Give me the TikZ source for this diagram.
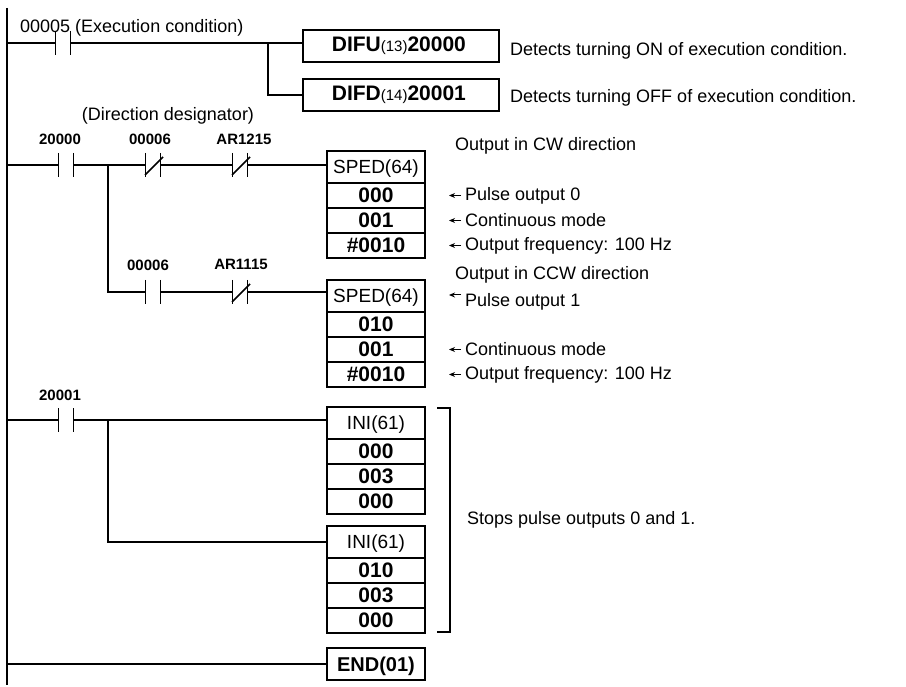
\documentclass[tikz,border=0pt]{standalone}
\usepackage{fontspec}
\setmainfont{Liberation Sans}
\usetikzlibrary{arrows.meta}
\usetikzlibrary{positioning}
\tikzset{
% standard arrow tip
>={Stealth[length=6pt,width=5pt]},
rung/.style={line width=1.6pt},
contact/.style={rectangle, minimum width=15pt, minimum height=24pt, inner sep=0, outer sep=0},
clabel/.style={font=\fontsize{15}{15}\selectfont\bfseries, inner sep=0},
note/.style={font=\fontsize{18}{18}\selectfont, inner sep=0, anchor=west},
head/.style={rectangle, draw=black, line width=1.8pt, minimum width=98pt, minimum height=32pt, inner sep=2pt, outer sep=0, anchor=north west, text depth=0pt, font=\fontsize{19}{19}\selectfont},
cell/.style={rectangle, draw=black, line width=1.8pt, minimum width=98pt, minimum height=25pt, inner sep=0, outer sep=0, anchor=north, font=\fontsize{21}{21}\selectfont\bfseries}
}
\newcommand{\plates}[1]{\draw[rung] (#1.north west) -- (#1.south west) (#1.north east) -- (#1.south east);}
\newcommand{\ncslash}[1]{\draw[rung] ([xshift=-8pt,yshift=-10pt]#1.center) -- ([xshift=10pt,yshift=8pt]#1.center);}

\begin{document}
\begin{tikzpicture}[x=1pt, y=-1pt]
  \useasboundingbox (0,0) rectangle (906,687);
  \coordinate (railtop) at (7,8);
  \coordinate (railbot) at (7,685);
  \coordinate (nx) at (465,0);
  \draw[rung] (railtop) -- (railbot);

  % rung 1
  \node[contact] (c00005) at (63,43) {};
  \plates{c00005}
  \node[note, anchor=south west] (exec) at (20,36) {00005 (Execution condition)};
  \node[rectangle, draw=black, line width=1.8pt, anchor=west, minimum width=196pt, minimum height=32pt, inner sep=3pt] (difu) at (302,46)
    {\hspace*{-4pt}\fontsize{21}{21}\selectfont\bfseries DIFU\fontsize{15}{15}\selectfont\mdseries(13)\fontsize{21}{21}\selectfont\bfseries 20000\hfill};
  \node[rectangle, draw=black, line width=1.8pt, anchor=west, minimum width=196pt, minimum height=32pt, inner sep=3pt] (difd) at (302,95)
    {\hspace*{-4pt}\fontsize{21}{21}\selectfont\bfseries DIFD\fontsize{15}{15}\selectfont\mdseries(14)\fontsize{21}{21}\selectfont\bfseries 20001\hfill};
  \coordinate (br1) at (268,43);
  \draw[rung] (railtop |- c00005) -- (c00005.west) (c00005.east) -- (difu.west |- c00005);
  \draw[rung] (br1) |- (difd.west);
  \node[note] (onnote) at (510,51) {Detects turning ON of execution condition.};
  \node[note] (offnote) at (510,98) {Detects turning OFF of execution condition.};

  % rung 2
  \node[note, anchor=center] (dirdes) at (168,116) {(Direction designator)};
  \node[contact] (c20000) at (66,165) {};
  \node[contact] (c00006a) at (153,165) {};
  \node[contact] (car1215) at (240,165) {};
  \node[contact] (c00006b) at (153,292) {};
  \node[contact] (car1115) at (240,292) {};
  \plates{c20000} \plates{c00006a} \plates{car1215} \plates{c00006b} \plates{car1115}
  \ncslash{c00006a} \ncslash{car1215} \ncslash{car1115}
  \node[clabel] (l20000) at (60,139) {20000};
  \node[clabel] (l00006a) at (150,139) {00006};
  \node[clabel] (lar1215) at (244,139) {AR1215};
  \node[clabel] (l00006b) at (148,265) {00006};
  \node[clabel] (lar1115) at (241,264) {AR1115};

  \node[head] (sped1) at (327,151) {SPED(64)};
  \node[cell] (s1a) at (sped1.south) {000};
  \node[cell] (s1b) at (s1a.south) {001};
  \node[cell] (s1c) at (s1b.south) {\#0010};
  \node[head] (sped2) at (327,280) {SPED(64)};
  \node[cell] (s2a) at (sped2.south) {010};
  \node[cell] (s2b) at (s2a.south) {001};
  \node[cell] (s2c) at (s2b.south) {\#0010};

  \coordinate (br2) at (108,165);
  \draw[rung] (railtop |- c20000) -- (c20000.west) (c20000.east) -- (c00006a.west)
    (c00006a.east) -- (car1215.west) (car1215.east) -- (sped1.west |- c20000);
  \draw[rung] (br2) |- (c00006b.west);
  \draw[rung] (c00006b.east) -- (car1115.west) (car1115.east) -- (sped2.west |- c00006b);

  \node[note] (cw) at (455,146) {Output in CW direction};
  \node[note] (ccw) at (455,275) {Output in CCW direction};
  \node[note] (n1a) at (nx |- s1a) {Pulse output 0};
  \node[note] (n1b) at (nx |- s1b) {Continuous mode};
  \node[note] (n1c) at (nx |- s1c) {Output frequency: 100 Hz};
  \node[note] (n2a) at (465,302) {Pulse output 1};
  \node[note] (n2b) at (nx |- s2b) {Continuous mode};
  \node[note] (n2c) at (nx |- s2c) {Output frequency: 100 Hz};
  \foreach \n in {n1a,n1b,n1c,n2b,n2c} {
    \draw[->, line width=1pt] ([xshift=-4pt]\n.west) -- ([xshift=-16pt]\n.west);
  }
  \draw[->, line width=1pt] ([xshift=-4pt,yshift=7pt]n2a.west) -- ([xshift=-16pt,yshift=7pt]n2a.west);

  % rung 3
  \node[contact] (c20001) at (66,420) {};
  \plates{c20001}
  \node[clabel] (l20001) at (60,395) {20001};
  \node[head] (ini1) at (327,407) {INI(61)};
  \node[cell] (i1a) at (ini1.south) {000};
  \node[cell] (i1b) at (i1a.south) {003};
  \node[cell] (i1c) at (i1b.south) {000};
  \node[head] (ini2) at (327,526) {INI(61)};
  \node[cell] (i2a) at (ini2.south) {010};
  \node[cell] (i2b) at (i2a.south) {003};
  \node[cell] (i2c) at (i2b.south) {000};
  \coordinate (br3) at (108,420);
  \coordinate (ini2in) at (327,542);
  \draw[rung] (railtop |- c20001) -- (c20001.west) (c20001.east) -- (ini1.west |- c20001);
  \draw[rung] (br3) |- (ini2in);
  % bracket
  \coordinate (bt) at (437,408);
  \coordinate (bb) at (437,632);
  \draw[line width=1.2pt] (bt) -- ++(13,0) |- (bb);
  \node[note] (stops) at (467,520) {Stops pulse outputs 0 and 1.};

  % end
  \node[head, anchor=west, font=\fontsize{20}{20}\selectfont\bfseries] (endbox) at (327,664) {END(01)};
  \draw[rung] (railtop |- endbox) -- (endbox.west);
\end{tikzpicture}
\end{document}
